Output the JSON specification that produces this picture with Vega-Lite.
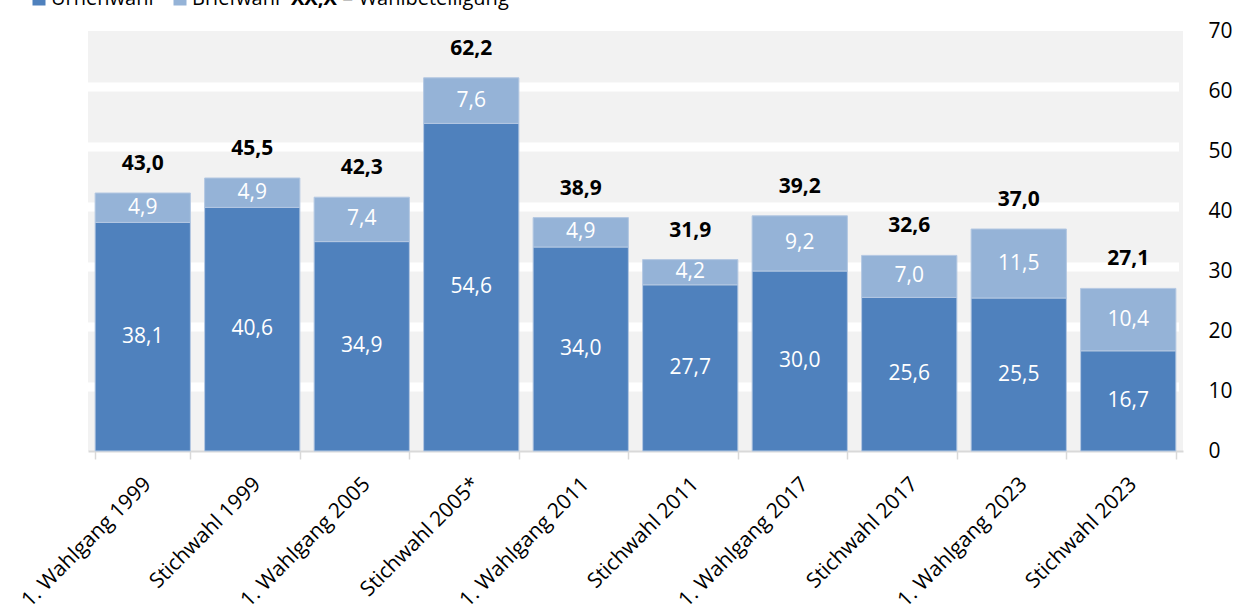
{
  "$schema": "https://vega.github.io/schema/vega-lite/v6.json",
  "width": 1095,
  "height": 420,
  "autosize": {"type": "none"},
  "padding": {"left": 88, "top": 31, "right": 55, "bottom": 165},
  "background": "white",
  "data": {"values": [
    {"wahl": "1. Wahlgang 1999", "art": "Urnenwahl", "anteil": 38.1},
    {"wahl": "1. Wahlgang 1999", "art": "Briefwahl", "anteil": 4.9},
    {"wahl": "Stichwahl 1999", "art": "Urnenwahl", "anteil": 40.6},
    {"wahl": "Stichwahl 1999", "art": "Briefwahl", "anteil": 4.9},
    {"wahl": "1. Wahlgang 2005", "art": "Urnenwahl", "anteil": 34.9},
    {"wahl": "1. Wahlgang 2005", "art": "Briefwahl", "anteil": 7.4},
    {"wahl": "Stichwahl 2005*", "art": "Urnenwahl", "anteil": 54.6},
    {"wahl": "Stichwahl 2005*", "art": "Briefwahl", "anteil": 7.6},
    {"wahl": "1. Wahlgang 2011", "art": "Urnenwahl", "anteil": 34.0},
    {"wahl": "1. Wahlgang 2011", "art": "Briefwahl", "anteil": 4.9},
    {"wahl": "Stichwahl 2011", "art": "Urnenwahl", "anteil": 27.7},
    {"wahl": "Stichwahl 2011", "art": "Briefwahl", "anteil": 4.2},
    {"wahl": "1. Wahlgang 2017", "art": "Urnenwahl", "anteil": 30.0},
    {"wahl": "1. Wahlgang 2017", "art": "Briefwahl", "anteil": 9.2},
    {"wahl": "Stichwahl 2017", "art": "Urnenwahl", "anteil": 25.6},
    {"wahl": "Stichwahl 2017", "art": "Briefwahl", "anteil": 7.0},
    {"wahl": "1. Wahlgang 2023", "art": "Urnenwahl", "anteil": 25.5},
    {"wahl": "1. Wahlgang 2023", "art": "Briefwahl", "anteil": 11.5},
    {"wahl": "Stichwahl 2023", "art": "Urnenwahl", "anteil": 16.7},
    {"wahl": "Stichwahl 2023", "art": "Briefwahl", "anteil": 10.4}
  ]},
  "layer": [
    {
      "mark": {"type": "bar", "stroke": "#b4c8e2", "strokeWidth": 1},
      "encoding": {
        "x": {
          "field": "wahl", "type": "nominal", "sort": null, "title": null,
          "scale": {"paddingInner": 0.13, "paddingOuter": 0.065},
          "axis": {
            "labelAngle": -45, "labelFontSize": 21, "labelFont": "Open Sans", "labelColor": "#000000",
            "domainColor": "#d9d9d9", "domainWidth": 2, "tickColor": "#d9d9d9", "tickWidth": 1.5,
            "tickSize": 8, "tickBand": "extent", "labelPadding": 14, "labelOffset": -3, "labelLimit": 400, "grid": false
          }
        },
        "y": {
          "field": "anteil", "type": "quantitative", "stack": "zero", "title": null,
          "scale": {"domain": [0, 70], "nice": false},
          "axis": {
            "orient": "right", "values": [0, 10, 20, 30, 40, 50, 60, 70], "grid": false,
            "ticks": false, "domain": false, "labelPadding": 25, "labelAlign": "left",
            "labelFontSize": 21, "labelFont": "Open Sans", "labelColor": "#000000", "labelBaseline": "middle"
          }
        },
        "color": {
          "field": "art", "type": "nominal",
          "scale": {"domain": ["Urnenwahl", "Briefwahl"], "range": ["#4f81bd", "#95b3d7"]},
          "legend": {
            "orient": "none", "legendX": -59, "legendY": -42, "direction": "horizontal", "title": null,
            "symbolType": "square", "symbolSize": 169, "symbolStrokeWidth": 0,
            "labelFontSize": 20, "labelFont": "Open Sans", "labelColor": "#000000",
            "labelOffset": 2, "columnPadding": 16, "gridAlign": "none"
          }
        },
        "order": {"field": "art", "sort": "descending"}
      }
    },
    {
      "transform": [
        {"stack": "anteil", "groupby": ["wahl"], "sort": [{"field": "art", "order": "descending"}], "as": ["v0", "v1"]},
        {"fold": ["v0", "v1"], "as": ["rand", "pos"]},
        {"aggregate": [{"op": "mean", "field": "pos", "as": "mitte"}, {"op": "max", "field": "anteil", "as": "wert"}], "groupby": ["wahl", "art"]}
      ],
      "mark": {"type": "text", "color": "white", "fontSize": 21, "font": "Open Sans", "baseline": "middle"},
      "encoding": {
        "x": {"field": "wahl", "type": "nominal", "sort": null, "title": null},
        "y": {
          "field": "mitte", "type": "quantitative", "title": null,
          "axis": {
            "orient": "left", "grid": true, "gridColor": "white", "gridWidth": 9, "gridOpacity": 1,
            "values": [10, 20, 30, 40, 50, 60], "labels": false, "ticks": false, "domain": false,
            "translate": -4
          }
        },
        "text": {"field": "wert", "type": "quantitative", "format": ".1f"}
      }
    },
    {
      "mark": {"type": "text", "fontSize": 21, "font": "Open Sans", "fontWeight": "bold", "baseline": "alphabetic", "dy": -23},
      "encoding": {
        "x": {"field": "wahl", "type": "nominal", "sort": null, "title": null},
        "y": {"aggregate": "sum", "field": "anteil", "type": "quantitative", "axis": null},
        "text": {"aggregate": "sum", "field": "anteil", "type": "quantitative", "format": ".1f"},
        "color": {
          "datum": "= Wahlbeteiligung",
          "scale": {"range": ["#000000"]},
          "legend": {
            "orient": "none", "legendX": 203, "legendY": -42, "title": "XX,X", "titleOrient": "left",
            "titleFontWeight": "bold", "titleFontSize": 20, "titleFont": "Open Sans", "titleColor": "#000000",
            "titlePadding": -15, "symbolSize": 0, "symbolOpacity": 0, "symbolStrokeWidth": 0, "labelOffset": 0,
            "labelFontSize": 20, "labelFont": "Open Sans", "labelColor": "#000000", "labelLimit": 400
          }
        }
      }
    }
  ],
  "resolve": {"scale": {"color": "independent"}, "axis": {"y": "independent"}},
  "config": {
    "view": {"fill": "#f2f2f2", "stroke": null},
    "font": "Open Sans",
    "locale": {"number": {"decimal": ",", "thousands": ".", "grouping": [3], "currency": ["", " €"]}}
  }
}
